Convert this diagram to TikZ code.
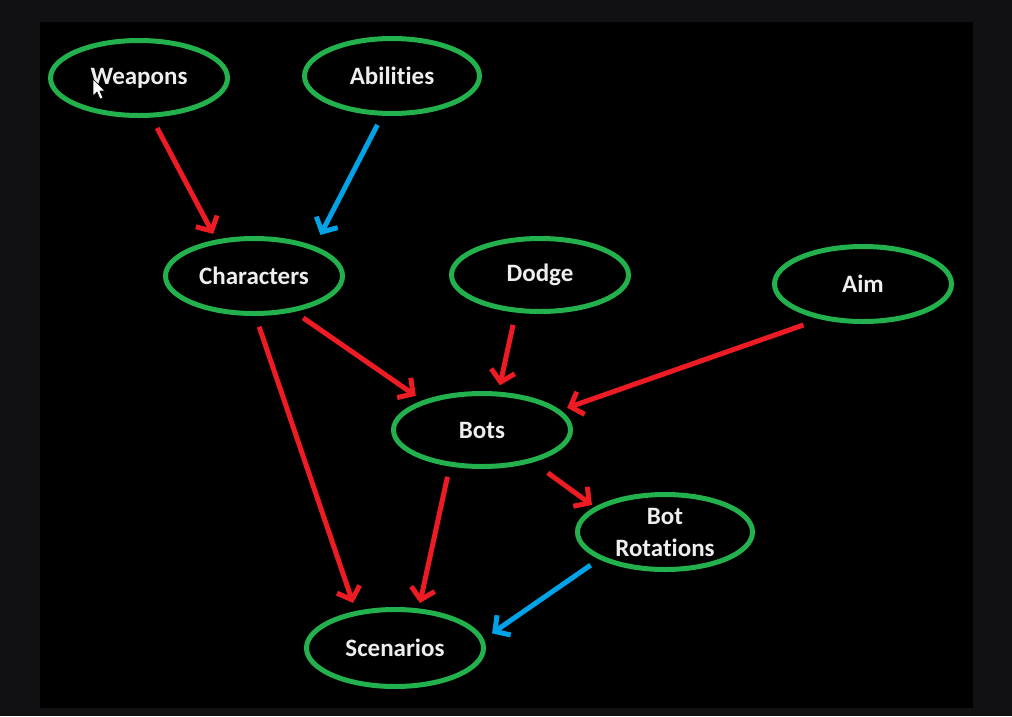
\documentclass[tikz,border=0pt]{standalone}
\usepackage{fontspec}
\setmainfont{Carlito}[Ligatures={NoCommon}]
\usetikzlibrary{shapes.geometric,arrows.meta}

\definecolor{framegray}{HTML}{111013}
\definecolor{ringgreen}{HTML}{22B14C}
\definecolor{linkred}{HTML}{ED1C24}
\definecolor{linkblue}{HTML}{00A2E8}
\definecolor{labelwhite}{HTML}{EEEEEE}

\tikzset{
  topic/.style={ellipse, draw=ringgreen, line width=5pt,
    minimum width=177pt, minimum height=75pt, inner sep=0pt, outer sep=0pt,
    text=labelwhite, font=\fontsize{25}{32}\selectfont\bfseries, align=center},
  link/.style={line width=5pt, -{Straight Barb[length=11pt,width=24pt]}},
  redlink/.style={link, draw=linkred},
  bluelink/.style={link, draw=linkblue},
}

\begin{document}
\begin{tikzpicture}[x=1pt,y=-1pt]
  % canvas
  \useasboundingbox (0,0) rectangle (1012,716);
  \fill[framegray] (0,0) rectangle (1012,716);
  \fill[black] (40,22) rectangle (973,708);

  % topics
  \node[topic] (weap)  at (139,78)  {Weapons};
  \node[topic, minimum width=175pt] (abil) at (392,76) {Abilities};
  \node[topic] (chars) at (254,276) {Characters};
  \node[topic, minimum height=73pt] (dodge) at (540,275) {Dodge};
  \node[topic] (aim)   at (863,284) {Aim};
  \node[topic, minimum height=73pt] (bots) at (482,430) {Bots};
  \node[topic, minimum width=175pt] (rot) at (665,532) {Bot\\Rotations};
  \node[topic, minimum height=77pt] (scen) at (395,648) {Scenarios};

  % dependencies
  \draw[redlink,  shorten <=14.5pt, shorten >=9pt]    (weap.-73)   -- (chars.137);
  \draw[bluelink, shorten <=13pt,   shorten >=15pt]   (abil.-103)  -- (chars.25);
  \draw[redlink,  shorten <=14pt,   shorten >=11pt]   (chars.-42)  -- (bots.154);
  \draw[redlink,  shorten <=15pt,   shorten >=9pt]    (dodge.-124) -- (bots.66);
  \draw[redlink,  shorten <=22pt,   shorten >=10pt]   (aim.-139)   -- (bots.14);
  \draw[redlink,  shorten <=14pt,   shorten >=11pt]   (chars.-89)  -- (scen.138);
  \draw[redlink,  shorten <=13pt,   shorten >=8pt]    (bots.-133)  -- (scen.58);
  \draw[redlink,  shorten <=21pt,   shorten >=6pt]    (bots.-32)   -- (rot.161);
  \draw[bluelink, shorten <=13pt,   shorten >=12.5pt] (rot.-158)   -- (scen.5);

  % mouse pointer
  \fill[white, draw=black, line width=0.6pt]
    (93,79) -- (93,96) -- (97,92) -- (100,99) -- (103,98) -- (100,91) -- (105,91) -- cycle;
\end{tikzpicture}
\end{document}
